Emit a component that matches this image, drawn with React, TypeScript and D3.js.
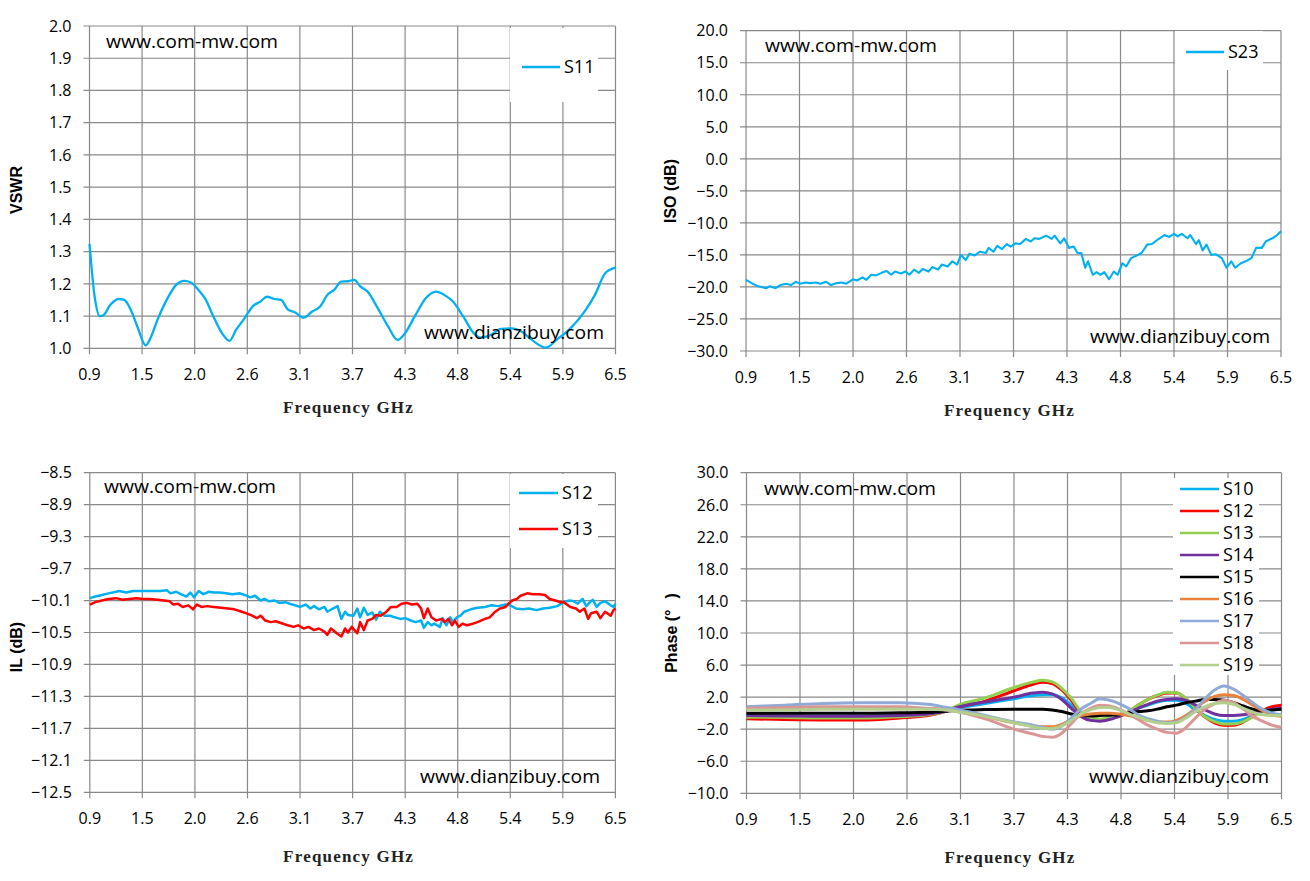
import React, { useRef, useEffect } from "react";
import * as d3 from "d3";

// x axis (same on all four charts)
const xTickValues = [0.9, 1.46, 2.02, 2.58, 3.14, 3.7, 4.26, 4.82, 5.38, 5.94, 6.5];
const xTickLabels = ["0.9", "1.5", "2.0", "2.6", "3.1", "3.7", "4.3", "4.8", "5.4", "5.9", "6.5"];

// y ticks
const vswrTicks = [1.0, 1.1, 1.2, 1.3, 1.4, 1.5, 1.6, 1.7, 1.8, 1.9, 2.0];
const isoTicks = [-30, -25, -20, -15, -10, -5, 0, 5, 10, 15, 20];
const ilTicks = [-12.5, -12.1, -11.7, -11.3, -10.9, -10.5, -10.1, -9.7, -9.3, -8.9, -8.5];
const phaseTicks = [-10, -6, -2, 2, 6, 10, 14, 18, 22, 26, 30];

// S11 VSWR
const s11Freq = [0.9, 0.955, 1.01, 1.05, 1.12, 1.21, 1.27, 1.34, 1.41, 1.5, 1.54, 1.63, 1.73, 1.82, 1.91, 1.98, 2.06, 2.13, 2.22, 2.31, 2.39, 2.46, 2.55, 2.64, 2.72, 2.79, 2.87, 2.94, 3.01, 3.09, 3.18, 3.27, 3.36, 3.43, 3.51, 3.58, 3.65, 3.72, 3.78, 3.86, 3.97, 4.08, 4.18, 4.26, 4.37, 4.48, 4.59, 4.68, 4.77, 4.88, 4.99, 5.06, 5.17, 5.28, 5.39, 5.5, 5.61, 5.76, 5.87, 6.02, 6.17, 6.28, 6.39, 6.5];
const s11Vswr = [1.324, 1.16, 1.1, 1.103, 1.134, 1.153, 1.15, 1.119, 1.067, 1.009, 1.026, 1.093, 1.155, 1.196, 1.209, 1.204, 1.181, 1.155, 1.098, 1.047, 1.023, 1.057, 1.093, 1.131, 1.145, 1.16, 1.153, 1.15, 1.121, 1.111, 1.095, 1.114, 1.131, 1.165, 1.183, 1.207, 1.208, 1.212, 1.193, 1.176, 1.124, 1.067, 1.026, 1.047, 1.103, 1.155, 1.176, 1.165, 1.145, 1.098, 1.047, 1.033, 1.041, 1.06, 1.062, 1.052, 1.026, 1.002, 1.026, 1.062, 1.114, 1.165, 1.233, 1.25];

// S23 isolation
const isoFreq = [0.9, 0.96, 1.01, 1.06, 1.11, 1.15, 1.21, 1.26, 1.32, 1.37, 1.42, 1.47, 1.52, 1.57, 1.63, 1.68, 1.74, 1.79, 1.85, 1.9, 1.95, 2.02, 2.06, 2.12, 2.16, 2.21, 2.26, 2.32, 2.37, 2.42, 2.46, 2.52, 2.57, 2.61, 2.66, 2.71, 2.75, 2.81, 2.85, 2.91, 2.95, 3.01, 3.06, 3.11, 3.15, 3.2, 3.24, 3.29, 3.35, 3.41, 3.44, 3.49, 3.53, 3.58, 3.63, 3.67, 3.72, 3.77, 3.83, 3.88, 3.92, 3.97, 4.04, 4.1, 4.13, 4.19, 4.23, 4.28, 4.33, 4.37, 4.41, 4.45, 4.48, 4.53, 4.57, 4.61, 4.65, 4.7, 4.75, 4.79, 4.84, 4.88, 4.93, 4.99, 5.04, 5.1, 5.15, 5.21, 5.28, 5.33, 5.38, 5.42, 5.46, 5.52, 5.55, 5.61, 5.64, 5.68, 5.72, 5.77, 5.82, 5.88, 5.93, 5.98, 6.02, 6.08, 6.13, 6.19, 6.24, 6.3, 6.34, 6.41, 6.46, 6.5];
const isoDb = [-18.9, -19.4, -19.8, -20.0, -20.2, -19.9, -20.2, -19.7, -19.5, -19.7, -19.2, -19.5, -19.3, -19.4, -19.3, -19.5, -19.2, -19.7, -19.4, -19.3, -19.5, -18.8, -19.0, -18.5, -18.9, -18.1, -18.2, -17.8, -17.5, -18.1, -17.6, -17.9, -17.6, -18.1, -17.3, -17.8, -17.2, -17.6, -16.9, -17.3, -16.5, -16.8, -16.0, -16.5, -15.0, -15.8, -14.8, -15.1, -14.5, -14.7, -13.9, -14.5, -13.6, -14.1, -13.3, -13.7, -13.2, -13.3, -12.5, -12.9, -12.4, -12.5, -12.0, -12.5, -12.0, -13.2, -12.4, -13.9, -13.7, -14.7, -14.7, -17.0, -16.0, -18.1, -17.7, -18.1, -17.7, -18.8, -17.6, -18.1, -16.3, -16.8, -15.5, -15.1, -14.7, -13.4, -13.3, -12.6, -11.9, -12.2, -11.7, -12.1, -11.7, -12.4, -11.9, -13.3, -12.7, -14.3, -13.4, -15.0, -14.9, -15.5, -17.0, -16.0, -17.0, -16.3, -16.0, -15.5, -13.9, -13.9, -12.9, -12.4, -11.9, -11.3];

// S12 / S13 insertion loss
const ilS12Freq = [0.9, 0.96, 1.03, 1.1, 1.18, 1.21, 1.29, 1.36, 1.43, 1.51, 1.58, 1.65, 1.72, 1.76, 1.82, 1.87, 1.93, 1.97, 2.01, 2.06, 2.11, 2.17, 2.22, 2.28, 2.35, 2.42, 2.5, 2.55, 2.61, 2.66, 2.72, 2.76, 2.81, 2.87, 2.92, 2.98, 3.03, 3.09, 3.14, 3.2, 3.25, 3.29, 3.34, 3.4, 3.43, 3.49, 3.54, 3.58, 3.62, 3.65, 3.71, 3.75, 3.78, 3.82, 3.86, 3.91, 3.95, 3.99, 4.04, 4.1, 4.15, 4.21, 4.26, 4.32, 4.37, 4.43, 4.46, 4.5, 4.54, 4.57, 4.63, 4.66, 4.7, 4.74, 4.77, 4.81, 4.85, 4.89, 4.96, 5.03, 5.11, 5.18, 5.25, 5.33, 5.38, 5.44, 5.51, 5.58, 5.66, 5.73, 5.8, 5.88, 5.95, 6.01, 6.06, 6.1, 6.15, 6.19, 6.23, 6.26, 6.3, 6.34, 6.39, 6.45, 6.48, 6.5];
const ilS12 = [-10.07, -10.05, -10.03, -10.01, -9.99, -9.98, -10.0, -9.98, -9.98, -9.98, -9.98, -9.98, -9.97, -10.01, -9.99, -10.02, -10.05, -10.0, -10.06, -9.98, -10.02, -9.99, -10.0, -10.0, -10.01, -10.02, -10.01, -10.03, -10.06, -10.04, -10.1, -10.08, -10.11, -10.1, -10.13, -10.12, -10.14, -10.16, -10.18, -10.15, -10.2, -10.17, -10.21, -10.18, -10.24, -10.2, -10.17, -10.33, -10.24, -10.28, -10.29, -10.2, -10.31, -10.19, -10.28, -10.25, -10.34, -10.24, -10.29, -10.29, -10.31, -10.33, -10.32, -10.35, -10.37, -10.35, -10.44, -10.37, -10.41, -10.39, -10.43, -10.32, -10.41, -10.31, -10.37, -10.31, -10.29, -10.24, -10.21, -10.19, -10.18, -10.16, -10.17, -10.15, -10.16, -10.2, -10.21, -10.2, -10.22, -10.2, -10.19, -10.17, -10.12, -10.1, -10.11, -10.14, -10.08, -10.17, -10.12, -10.09, -10.18, -10.13, -10.11, -10.16, -10.18, -10.14];
const ilS13Freq = [0.9, 0.96, 1.03, 1.1, 1.18, 1.25, 1.32, 1.4, 1.47, 1.54, 1.62, 1.69, 1.75, 1.79, 1.84, 1.89, 1.95, 2.0, 2.04, 2.09, 2.15, 2.22, 2.3, 2.37, 2.44, 2.52, 2.57, 2.63, 2.68, 2.72, 2.77, 2.83, 2.88, 2.96, 3.01, 3.07, 3.12, 3.18, 3.23, 3.29, 3.34, 3.4, 3.43, 3.47, 3.53, 3.58, 3.62, 3.65, 3.69, 3.75, 3.78, 3.82, 3.86, 3.91, 3.95, 4.0, 4.06, 4.11, 4.17, 4.22, 4.28, 4.33, 4.39, 4.43, 4.46, 4.5, 4.54, 4.59, 4.65, 4.68, 4.72, 4.76, 4.79, 4.83, 4.87, 4.92, 4.98, 5.03, 5.11, 5.16, 5.22, 5.27, 5.33, 5.36, 5.4, 5.45, 5.49, 5.56, 5.62, 5.69, 5.75, 5.8, 5.86, 5.91, 5.95, 6.02, 6.08, 6.12, 6.17, 6.21, 6.24, 6.3, 6.34, 6.39, 6.45, 6.48, 6.5];
const ilS13 = [-10.15, -10.12, -10.1, -10.08, -10.07, -10.09, -10.08, -10.07, -10.08, -10.08, -10.09, -10.1, -10.11, -10.15, -10.14, -10.18, -10.16, -10.21, -10.15, -10.18, -10.17, -10.18, -10.19, -10.2, -10.21, -10.24, -10.26, -10.29, -10.32, -10.29, -10.35, -10.37, -10.36, -10.39, -10.41, -10.43, -10.41, -10.45, -10.43, -10.47, -10.45, -10.49, -10.53, -10.45, -10.51, -10.55, -10.45, -10.5, -10.43, -10.51, -10.37, -10.47, -10.35, -10.33, -10.28, -10.29, -10.24, -10.18, -10.18, -10.14, -10.13, -10.15, -10.14, -10.2, -10.32, -10.2, -10.31, -10.35, -10.33, -10.37, -10.33, -10.41, -10.35, -10.43, -10.39, -10.41, -10.39, -10.37, -10.33, -10.31, -10.24, -10.2, -10.18, -10.14, -10.1, -10.08, -10.04, -10.01, -10.02, -10.02, -10.03, -10.08, -10.1, -10.12, -10.12, -10.18, -10.2, -10.24, -10.2, -10.33, -10.26, -10.24, -10.32, -10.24, -10.29, -10.22, -10.2];

// phase, all ports on one frequency list
const phaseFreq = [0.9, 1.3, 1.7, 2.1, 2.5, 2.8, 3.0, 3.1, 3.4, 3.7, 3.9, 4.0, 4.1, 4.2, 4.3, 4.4, 4.5, 4.6, 4.7, 4.8, 4.9, 5.0, 5.1, 5.2, 5.3, 5.4, 5.5, 5.6, 5.7, 5.8, 5.9, 6.0, 6.1, 6.2, 6.3, 6.4, 6.5];
const phaseS10 = [-0.3, -0.35, -0.4, -0.4, -0.3, -0.1, 0.3, 0.6, 1.2, 1.8, 2.2, 2.3, 2.3, 1.9, 1.0, -0.1, -0.6, -0.8, -0.7, -0.4, 0.1, 0.6, 1.0, 1.4, 1.6, 1.6, 1.2, 0.4, -0.3, -0.8, -1.0, -1.0, -0.8, -0.3, 0.2, 0.4, 0.5];
const phaseS12 = [-0.7, -0.8, -0.85, -0.85, -0.6, -0.3, 0.3, 0.7, 1.5, 2.8, 3.6, 3.85, 3.7, 2.9, 1.6, 0.0, -0.6, -0.8, -0.6, -0.4, 0.2, 1.0, 1.7, 2.2, 2.5, 2.5, 1.8, 0.6, -0.5, -1.2, -1.5, -1.5, -1.1, -0.4, 0.3, 0.8, 1.0];
const phaseS13 = [-0.5, -0.55, -0.6, -0.6, -0.45, -0.2, 0.3, 0.9, 1.9, 3.2, 3.9, 4.1, 3.9, 3.1, 1.85, 0.2, -0.6, -0.75, -0.55, -0.35, 0.2, 1.0, 1.7, 2.25, 2.6, 2.55, 1.85, 0.6, -0.45, -1.05, -1.35, -1.35, -1.05, -0.45, 0.2, 0.45, 0.5];
const phaseS14 = [-0.3, -0.35, -0.4, -0.4, -0.3, -0.1, 0.3, 0.7, 1.4, 2.0, 2.5, 2.6, 2.4, 1.7, 0.6, -0.4, -0.9, -1.0, -0.8, -0.4, 0.1, 0.6, 1.1, 1.5, 1.7, 1.8, 1.6, 1.0, 0.4, -0.1, -0.3, -0.3, -0.2, 0.0, 0.3, 0.5, 0.6];
const phaseS15 = [0.0, 0.0, 0.0, 0.0, 0.05, 0.1, 0.25, 0.35, 0.45, 0.5, 0.5, 0.5, 0.4, 0.2, -0.1, -0.3, -0.35, -0.3, -0.25, -0.2, 0.0, 0.2, 0.3, 0.5, 0.8, 1.0, 1.3, 1.5, 1.7, 1.7, 1.6, 1.3, 0.9, 0.5, 0.3, 0.4, 0.5];
const phaseS16 = [0.5, 0.55, 0.6, 0.6, 0.6, 0.55, 0.5, 0.3, -0.4, -1.2, -1.6, -1.7, -1.7, -1.4, -0.8, -0.3, -0.1, 0.0, 0.0, -0.1, -0.3, -0.6, -0.9, -1.1, -1.1, -0.9, -0.3, 0.6, 1.5, 2.1, 2.3, 2.2, 1.7, 1.0, 0.3, -0.2, -0.4];
const phaseS17 = [0.8, 1.0, 1.2, 1.3, 1.3, 1.1, 0.7, 0.5, -0.3, -1.1, -1.5, -1.8, -2.0, -1.6, -0.6, 0.5, 1.2, 1.8, 1.6, 1.2, 0.6, -0.2, -0.7, -1.0, -1.2, -1.1, -0.5, 0.5, 1.8, 2.9, 3.4, 3.0, 2.2, 1.3, 0.5, 0.0, -0.2];
const phaseS18 = [0.6, 0.7, 0.8, 0.8, 0.8, 0.6, 0.4, 0.2, -0.7, -2.0, -2.6, -2.9, -3.0, -2.5, -1.3, -0.1, 0.6, 1.0, 0.9, 0.5, -0.1, -0.8, -1.5, -2.0, -2.4, -2.5, -1.8, -0.6, 0.5, 1.2, 1.6, 1.3, 0.5, -0.4, -1.0, -1.5, -1.8];
const phaseS19 = [0.4, 0.4, 0.5, 0.5, 0.5, 0.5, 0.4, 0.2, -0.4, -1.2, -1.7, -1.9, -1.9, -1.6, -0.9, -0.1, 0.4, 0.7, 0.7, 0.4, -0.1, -0.5, -0.9, -1.2, -1.3, -1.2, -0.6, 0.2, 0.8, 1.2, 1.3, 1.1, 0.6, 0.1, -0.2, -0.3, -0.3];

const GRID = "#898989";
const TICK_FONT = "'Open Sans', 'Liberation Sans', sans-serif";

type Series = { name: string; color: string; freq: number[]; values: number[]; width: number; smooth: boolean };

type Panel = {
  left: number;
  right: number;
  top: number;
  bottom: number;
  yDomain: [number, number];
  yTicks: number[];
  yTitle: string;
  yTitleX: number;
  yTitleY: number;
  xTitleY: number;
  series: Series[];
  legendBox: [number, number, number, number];
  legendTop: number;
  legendStep: number;
  legendLineX: [number, number];
  topMark: [number, number];
  bottomMark: [number, number];
};

const panels: Panel[] = [
  {
    left: 89.5, right: 615.5, top: 26, bottom: 348.3,
    yDomain: [1.0, 2.0], yTicks: vswrTicks,
    yTitle: "VSWR", yTitleX: 16, yTitleY: 190, xTitleY: 413,
    series: [{ name: "S11", color: "#00b0f0", freq: s11Freq, values: s11Vswr, width: 2.3, smooth: true }],
    legendBox: [510, 28, 88, 74], legendTop: 67, legendStep: 0, legendLineX: [522, 560],
    topMark: [106, 48], bottomMark: [424, 339],
  },
  {
    left: 746, right: 1281, top: 30.7, bottom: 351,
    yDomain: [-30, 20], yTicks: isoTicks,
    yTitle: "ISO (dB)", yTitleX: 670, yTitleY: 191, xTitleY: 416,
    series: [{ name: "S23", color: "#00b0f0", freq: isoFreq, values: isoDb, width: 2.1, smooth: false }],
    legendBox: [1175, 31, 88, 39], legendTop: 52, legendStep: 0, legendLineX: [1186, 1224],
    topMark: [765, 52], bottomMark: [1090, 343],
  },
  {
    left: 89.8, right: 615.4, top: 472.7, bottom: 792.3,
    yDomain: [-12.5, -8.5], yTicks: ilTicks,
    yTitle: "IL (dB)", yTitleX: 16, yTitleY: 647, xTitleY: 862,
    series: [
      { name: "S12", color: "#00b0f0", freq: ilS12Freq, values: ilS12, width: 2.5, smooth: false },
      { name: "S13", color: "#ff0000", freq: ilS13Freq, values: ilS13, width: 2.5, smooth: false },
    ],
    legendBox: [510, 474, 88, 74], legendTop: 493, legendStep: 36, legendLineX: [519, 558],
    topMark: [104, 493], bottomMark: [420, 783],
  },
  {
    left: 746.5, right: 1281.5, top: 472.7, bottom: 793.3,
    yDomain: [-10, 30], yTicks: phaseTicks,
    yTitle: "Phase (°", yTitleX: 671, yTitleY: 633, xTitleY: 863,
    series: [
      { name: "S10", color: "#00b0f0", freq: phaseFreq, values: phaseS10, width: 3, smooth: true },
      { name: "S12", color: "#ff0000", freq: phaseFreq, values: phaseS12, width: 3, smooth: true },
      { name: "S13", color: "#92d050", freq: phaseFreq, values: phaseS13, width: 3, smooth: true },
      { name: "S14", color: "#7030a0", freq: phaseFreq, values: phaseS14, width: 3, smooth: true },
      { name: "S15", color: "#000000", freq: phaseFreq, values: phaseS15, width: 3, smooth: true },
      { name: "S16", color: "#e8813a", freq: phaseFreq, values: phaseS16, width: 3, smooth: true },
      { name: "S17", color: "#8eaad6", freq: phaseFreq, values: phaseS17, width: 3, smooth: true },
      { name: "S18", color: "#d99694", freq: phaseFreq, values: phaseS18, width: 3, smooth: true },
      { name: "S19", color: "#b3cf8e", freq: phaseFreq, values: phaseS19, width: 3, smooth: true },
    ],
    legendBox: [1173, 478, 86, 197], legendTop: 489, legendStep: 22, legendLineX: [1180, 1219],
    topMark: [764, 495], bottomMark: [1089, 783],
  },
];

function drawPanel(svg: d3.Selection<SVGSVGElement, unknown, null, undefined>, p: Panel) {
  const x = d3.scaleLinear().domain([0.9, 6.5]).range([p.left, p.right]);
  const y = d3.scaleLinear().domain(p.yDomain).range([p.bottom, p.top]);
  const g = svg.append("g");

  // horizontal gridlines with their outer tick
  g.append("g")
    .selectAll("line")
    .data(p.yTicks)
    .join("line")
    .attr("x1", p.left - 6)
    .attr("x2", p.right)
    .attr("y1", (d) => y(d))
    .attr("y2", (d) => y(d))
    .attr("stroke", GRID)
    .attr("stroke-width", 1.2);

  // vertical gridlines
  g.append("g")
    .selectAll("line")
    .data(xTickValues)
    .join("line")
    .attr("x1", (d) => x(d))
    .attr("x2", (d) => x(d))
    .attr("y1", p.top)
    .attr("y2", p.bottom + 6)
    .attr("stroke", GRID)
    .attr("stroke-width", 1.2);

  // y tick labels
  g.append("g")
    .selectAll("text")
    .data(p.yTicks)
    .join("text")
    .attr("x", p.left - 18)
    .attr("y", (d) => y(d))
    .attr("dy", "0.36em")
    .attr("text-anchor", "end")
    .style("font-family", TICK_FONT)
    .style("font-size", "16px")
    .attr("fill", "#000")
    .text((d) => d3.format(".1f")(d));

  // x tick labels
  g.append("g")
    .selectAll("text")
    .data(xTickValues)
    .join("text")
    .attr("x", (d) => x(d))
    .attr("y", p.bottom + 32)
    .attr("text-anchor", "middle")
    .style("font-family", TICK_FONT)
    .style("font-size", "16px")
    .attr("fill", "#000")
    .text((d, i) => xTickLabels[i]);

  // series
  p.series.forEach((s) => {
    const pts = s.freq.map((f, i) => [f, s.values[i]] as [number, number]);
    const line = d3
      .line<[number, number]>()
      .x((d) => x(d[0]))
      .y((d) => y(d[1]))
      .curve(s.smooth ? d3.curveMonotoneX : d3.curveLinear);
    g.append("path")
      .attr("d", line(pts))
      .attr("fill", "none")
      .attr("stroke", s.color)
      .attr("stroke-width", s.width)
      .attr("stroke-linejoin", "round");
  });

  // watermarks
  g.append("text")
    .attr("x", p.topMark[0])
    .attr("y", p.topMark[1])
    .attr("textLength", 172)
    .attr("lengthAdjust", "spacingAndGlyphs")
    .style("font-family", TICK_FONT)
    .style("font-size", "18px")
    .text("www.com-mw.com");
  g.append("text")
    .attr("x", p.bottomMark[0])
    .attr("y", p.bottomMark[1])
    .attr("textLength", 180)
    .attr("lengthAdjust", "spacingAndGlyphs")
    .style("font-family", TICK_FONT)
    .style("font-size", "18px")
    .text("www.dianzibuy.com");

  // legend
  const [bx, by, bw, bh] = p.legendBox;
  g.append("rect").attr("x", bx).attr("y", by).attr("width", bw).attr("height", bh).attr("fill", "#fff");
  const items = g
    .append("g")
    .selectAll("g")
    .data(p.series)
    .join("g")
    .attr("transform", (d, i) => `translate(0,${p.legendTop + i * p.legendStep})`);
  items
    .append("line")
    .attr("x1", p.legendLineX[0])
    .attr("x2", p.legendLineX[1])
    .attr("stroke", (d) => d.color)
    .attr("stroke-width", 2.6);
  items
    .append("text")
    .attr("x", p.legendLineX[1] + 4)
    .attr("dy", "0.36em")
    .style("font-family", TICK_FONT)
    .style("font-size", "18px")
    .text((d) => d.name);

  // axis titles
  const yt = g
    .append("text")
    .attr("transform", `translate(${p.yTitleX},${p.yTitleY}) rotate(-90)`)
    .attr("text-anchor", "middle")
    .attr("dy", "0.36em")
    .style("font-family", "'Liberation Sans', Arial, sans-serif")
    .style("font-weight", "bold")
    .style("font-size", "16px")
    .text(p.yTitle);
  if (p.yTitle.startsWith("Phase")) yt.append("tspan").attr("dx", 11).text(")");

  g.append("text")
    .attr("x", (p.left + p.right) / 2 - 4)
    .attr("y", p.xTitleY)
    .attr("text-anchor", "middle")
    .style("font-family", "'Liberation Serif', 'DejaVu Serif', serif")
    .style("font-weight", "bold")
    .style("font-size", "17px")
    .style("letter-spacing", "1.2px")
    .attr("fill", "#222")
    .text("Frequency GHz");
}

const App: React.FC = () => {
  const ref = useRef<SVGSVGElement | null>(null);

  useEffect(() => {
    if (!ref.current) return;
    const svg = d3.select(ref.current);
    svg.selectAll("*").remove();
    svg.append("rect").attr("width", 1310).attr("height", 881).attr("fill", "#fff");
    panels.forEach((p) => drawPanel(svg, p));
  }, []);

  return (
    <svg
      ref={ref}
      width={1310}
      height={881}
      style={{ position: "absolute", left: 0, top: 0, display: "block" }}
    />
  );
};

export default App;
